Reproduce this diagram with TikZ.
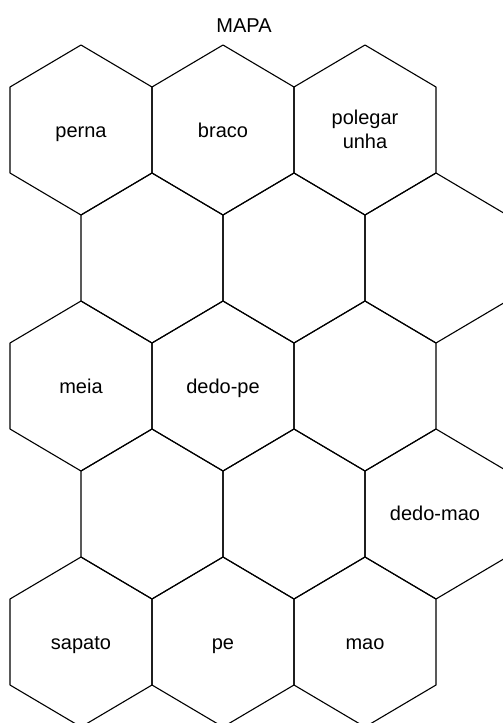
\documentclass[tikz,border=0pt]{standalone}
\usepackage{fontspec}
\setmainfont{Liberation Sans}
\begin{document}
\begin{tikzpicture}[x=1pt,y=-1pt,
  hexline/.style={draw=black,line width=1.1pt,line join=round},
  lbl/.style={font=\fontsize{20}{23}\selectfont,anchor=base,inner sep=0pt}]
\useasboundingbox (0,0) rectangle (503,723);
\begin{scope}
\clip (0,0) rectangle (503,723);
\foreach \cx/\cy in {81/130,223/130,365/130,
                     152/258,294/258,436/258,
                     81/386,223/386,365/386,
                     152/514,294/514,436/514,
                     81/642,223/642,365/642}{
  \draw[hexline] ({\cx-71},{\cy-43}) -- (\cx,{\cy-85}) -- ({\cx+71},{\cy-43})
    -- ({\cx+71},{\cy+43}) -- (\cx,{\cy+85}) -- ({\cx-71},{\cy+43}) -- cycle;
}
\end{scope}
\node[lbl] (title) at (244,32) {MAPA};
\node[lbl] (perna) at (81,137) {perna};
\node[lbl] (braco) at (223,137) {braco};
\node[lbl] (polegar) at (365,124) {polegar};
\node[lbl] (unha) at (365,148) {unha};
\node[lbl] (meia) at (81,393) {meia};
\node[lbl] (dedope) at (223,393) {dedo-pe};
\node[lbl] (dedomao) at (435,520) {dedo-mao};
\node[lbl] (sapato) at (81,649) {sapato};
\node[lbl] (pe) at (223,649) {pe};
\node[lbl] (mao) at (365,649) {mao};
\end{tikzpicture}
\end{document}
